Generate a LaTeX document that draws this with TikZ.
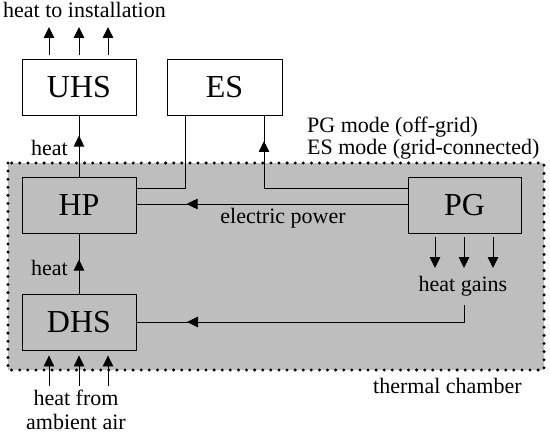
\documentclass[tikz,border=0pt]{standalone}
\usepackage{fontspec}
\setmainfont{Liberation Serif}
\usetikzlibrary{arrows.meta,decorations.markings,calc}
\definecolor{chamber}{RGB}{190,190,190}
\tikzset{
  box/.style={draw,line width=0.9pt,minimum width=114pt,minimum height=56pt,inner sep=0pt,font=\fontsize{32}{34}\selectfont},
  lbl/.style={font=\fontsize{22}{24}\selectfont,inner sep=0pt},
  ln/.style={line width=0.9pt},
  arr/.style={ln,-{Triangle[length=11pt,width=10.5pt]}},
  midarrow/.style={ln,postaction={decorate},decoration={markings,mark=at position #1 with {\arrow{Triangle[length=11pt,width=10.5pt]}}}}
}
\begin{document}
\begin{tikzpicture}[x=1pt,y=-1pt]
\useasboundingbox (0,0) rectangle (550,436);
% thermal chamber
\fill[chamber] (8,163) rectangle (544,370);
\draw[line width=3.3pt,line cap=round,dash pattern=on 0pt off 8.1pt] (8,163) rectangle (544,370);
% boxes
\node[box] (UHS) at (79,87) {UHS};
\node[box,minimum width=115pt] (ES) at (224.5,87) {ES};
\node[box] (HP) at (79,205) {HP};
\node[box,minimum width=113pt] (PG) at (464.5,205) {PG};
\node[box] (DHS) at (79,322) {DHS};
% coordinates
\coordinate (t1) at (49,27); \coordinate (t2) at (79,27); \coordinate (t3) at (108,27);
\coordinate (a1) at (49,386); \coordinate (a2) at (79,386); \coordinate (a3) at (108,386);
\coordinate (g1) at (435,268); \coordinate (g2) at (464,268); \coordinate (g3) at (493,268);
\coordinate (es1) at (185,188);
\coordinate (pe) at (264,188);
\coordinate (ep) at (300,204);
\coordinate (hg) at (464,305);
\coordinate (dh) at (300,322);
% heat to installation
\foreach \t in {t1,t2,t3} \draw[arr] ($(UHS.north -| \t)+(0,-4)$) -- (\t);
% ambient air
\foreach \t in {a1,a2,a3} \draw[arr] (\t) -- ($(DHS.south -| \t)+(0,5)$);
% heat gains
\foreach \t in {g1,g2,g3} \draw[arr] ($(PG.south -| \t)+(0,4)$) -- (\t);
% HP -> UHS
\draw[midarrow=41pt] (HP.north) -- (UHS.south);
% DHS -> HP
\draw[midarrow=34pt] (DHS.north) -- (HP.south);
% ES -- HP
\draw[ln] (ES.south -| es1) -- (es1) -- (HP.east |- es1);
% PG -> ES
\draw[ln] (PG.west |- pe) -- (pe);
\draw[midarrow=47pt] (pe) -- (ES.south -| pe);
% electric power
\draw[midarrow=221pt] (PG.west |- ep) -- (HP.east |- ep);
% heat gains -> DHS
\draw[midarrow=294pt] (hg) |- (DHS.east |- dh);
% labels
\node[lbl,anchor=base west] (l1) at (3,18) {heat to installation};
\node[lbl,anchor=base west] (l2) at (31,156) {heat};
\node[lbl,anchor=base west] (l3) at (31,275) {heat};
\node[lbl,anchor=base west] (l4) at (307,132) {PG mode (off-grid)};
\node[lbl,anchor=base west] (l5) at (307,155) {ES mode (grid-connected)};
\node[lbl,anchor=base] (l6) at (283,224) {electric power};
\node[lbl,anchor=base] (l7) at (463,291) {heat gains};
\node[lbl,anchor=base] (l8) at (76,405) {heat from};
\node[lbl,anchor=base] (l9) at (76,429) {ambient air};
\node[lbl,anchor=base west] (l10) at (373,393) {thermal chamber};
\end{tikzpicture}
\end{document}
